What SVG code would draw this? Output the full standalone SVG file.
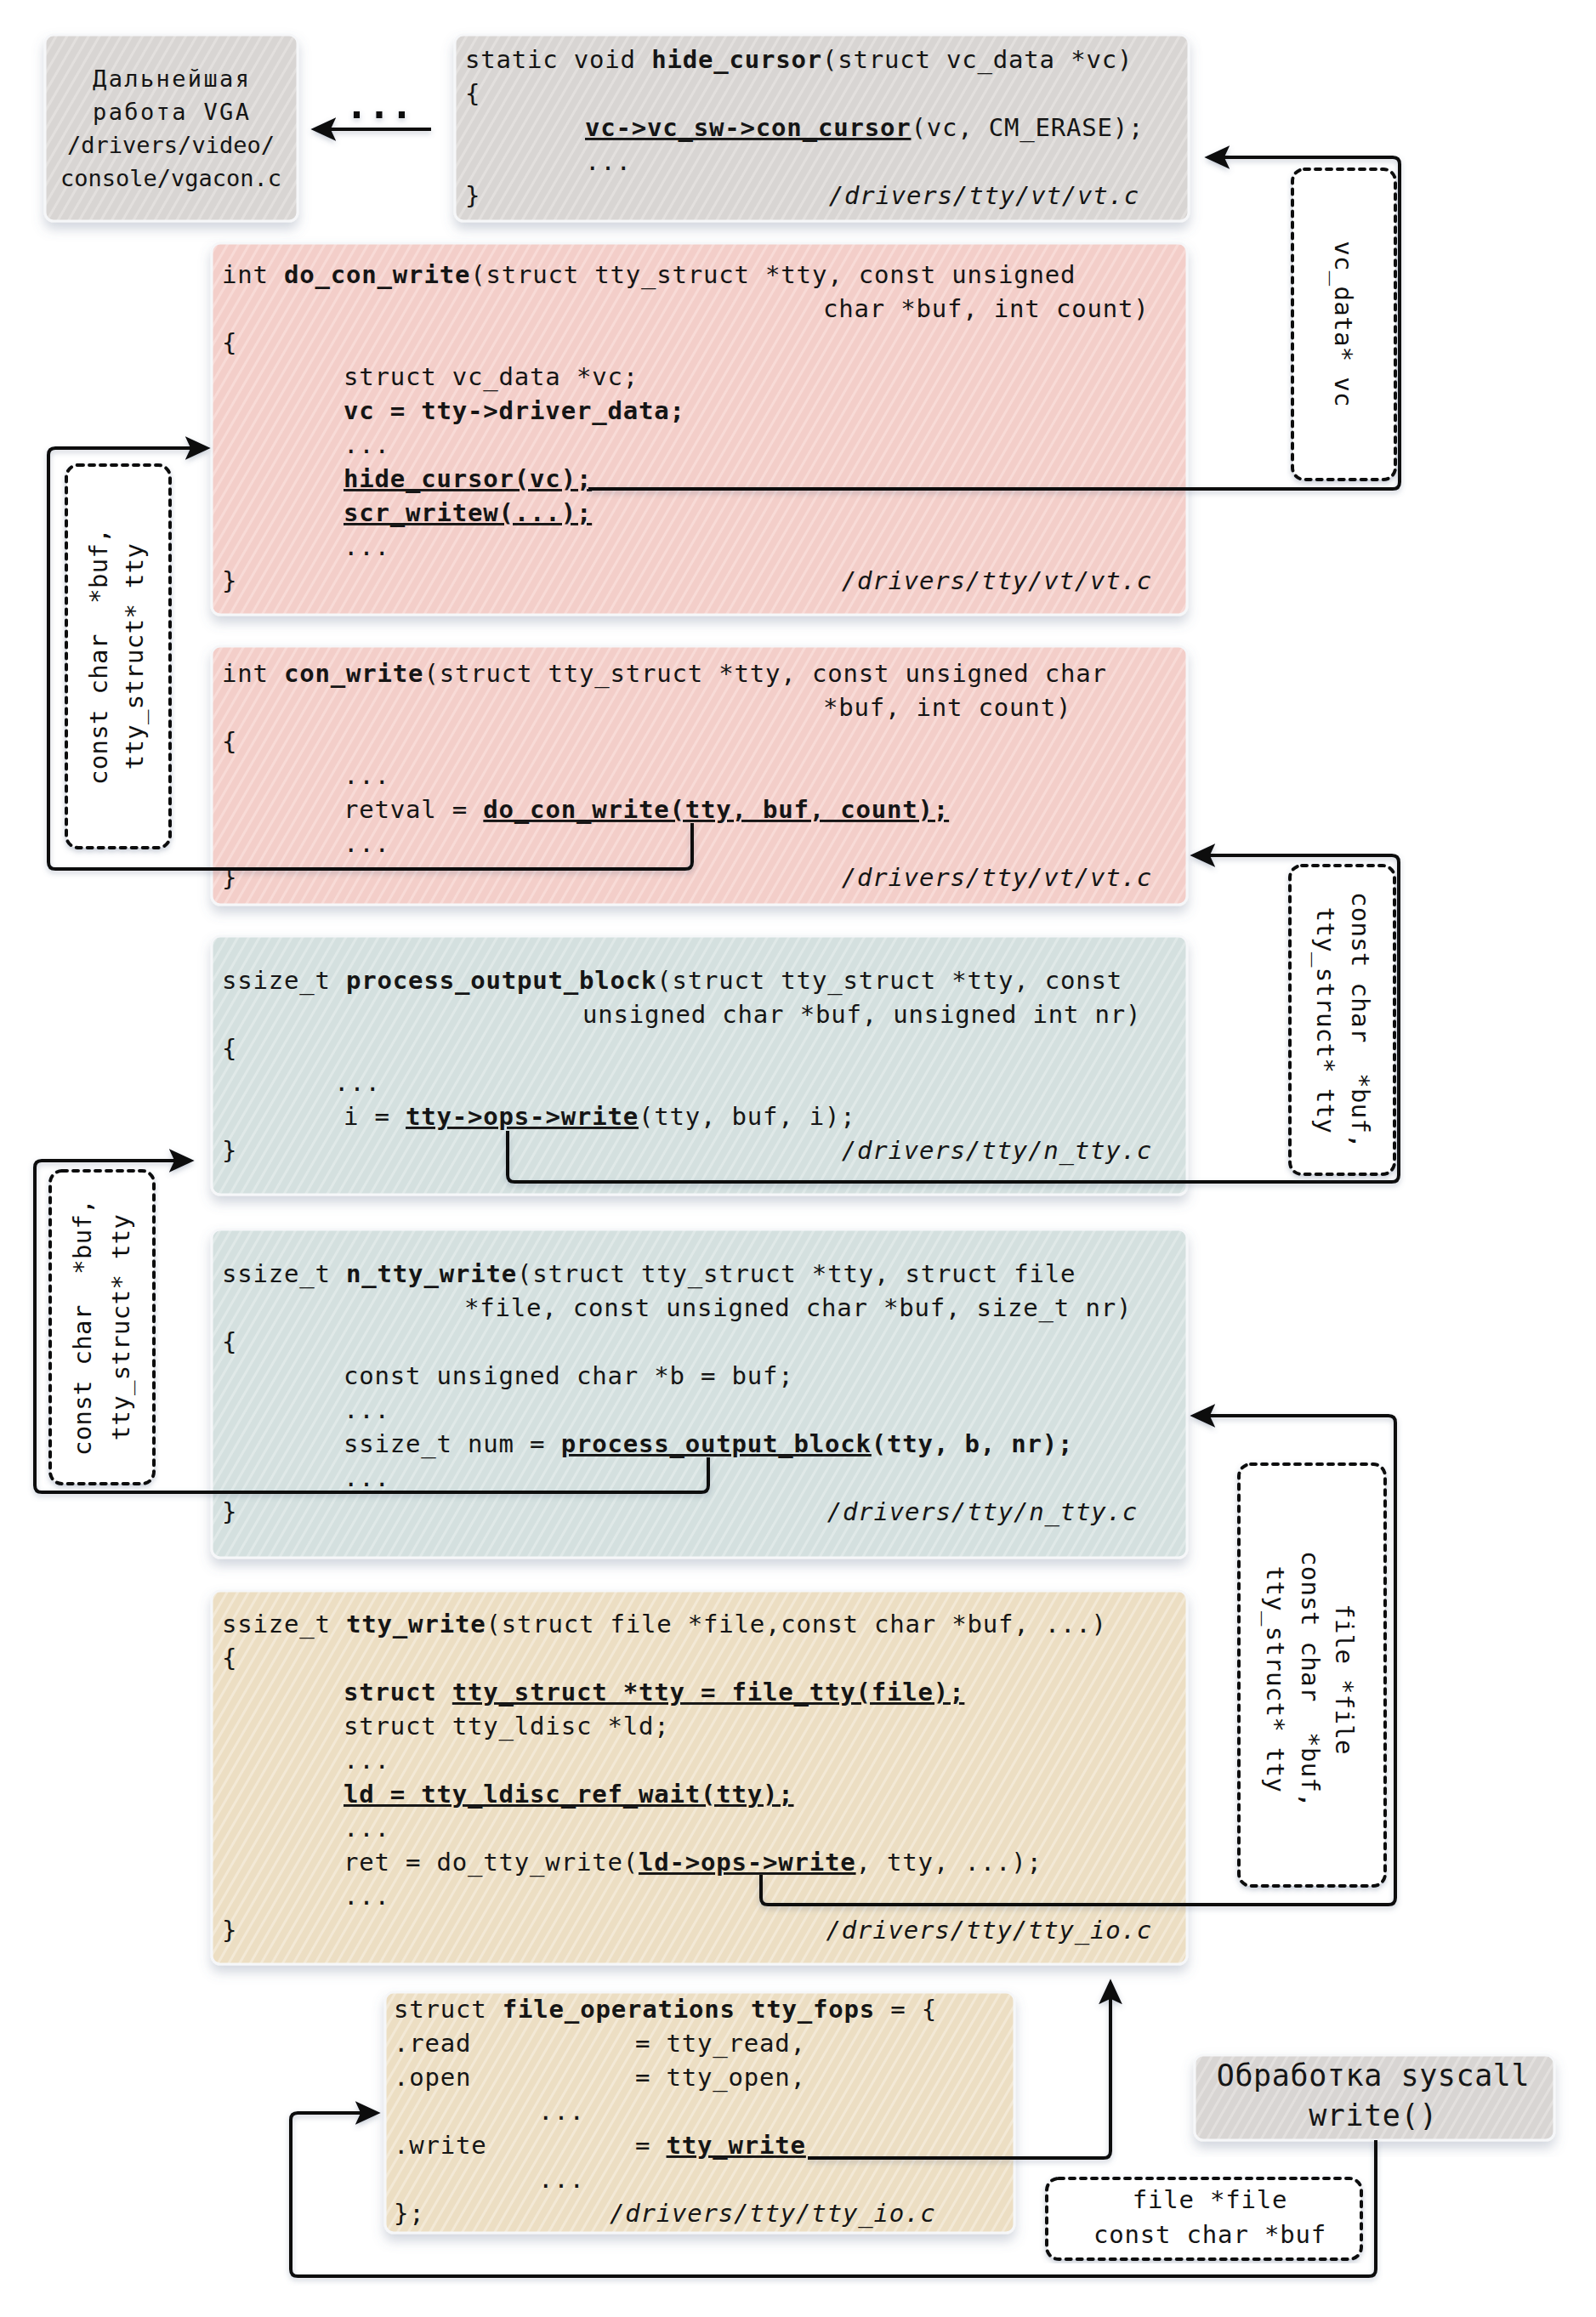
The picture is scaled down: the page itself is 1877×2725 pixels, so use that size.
<svg xmlns="http://www.w3.org/2000/svg" width="1877" height="2725" viewBox="0 0 1877 2725">
<defs>
<style>
.c{font-family:"DejaVu Sans Mono","Liberation Mono",monospace;font-size:29px;letter-spacing:0.8px;fill:#151515}
.b{font-weight:bold}
.u{text-decoration:underline}
.i{font-style:italic}
.r{font-family:"DejaVu Sans Mono","Liberation Mono",monospace;font-size:29px;letter-spacing:0.3px;fill:#111;text-anchor:middle}
.t{font-family:"DejaVu Sans Mono","Liberation Mono",monospace;fill:#151515;text-anchor:middle}
.conn{fill:none;stroke:#111;stroke-width:4;stroke-linejoin:round;stroke-linecap:butt}
.dash{fill:#fff;stroke:#111;stroke-width:4;stroke-dasharray:6 7;stroke-linecap:round}
.box{stroke:#f6f7f9;stroke-width:3}
</style>
<pattern id="pGray" patternUnits="userSpaceOnUse" width="11" height="11" patternTransform="rotate(30)"><rect width="11" height="11" fill="#d8d5d3"/><rect width="3" height="11" fill="#e3e0de"/></pattern>
<pattern id="pPink" patternUnits="userSpaceOnUse" width="11" height="11" patternTransform="rotate(30)"><rect width="11" height="11" fill="#f3cec9"/><rect width="3" height="11" fill="#f8dbd7"/></pattern>
<pattern id="pBlue" patternUnits="userSpaceOnUse" width="11" height="11" patternTransform="rotate(30)"><rect width="11" height="11" fill="#d4e0df"/><rect width="3" height="11" fill="#e0e9e8"/></pattern>
<pattern id="pBeige" patternUnits="userSpaceOnUse" width="11" height="11" patternTransform="rotate(30)"><rect width="11" height="11" fill="#ecdec3"/><rect width="3" height="11" fill="#f3e9d6"/></pattern>
<filter id="sh" x="-10%" y="-10%" width="120%" height="130%"><feDropShadow dx="0" dy="8" stdDeviation="7" flood-color="#5d6f8a" flood-opacity="0.28"/></filter>
<filter id="lsh" x="-5%" y="-5%" width="110%" height="110%"><feDropShadow dx="0" dy="3" stdDeviation="3" flood-color="#5d6f8a" flood-opacity="0.35"/></filter>
<marker id="ah" markerUnits="userSpaceOnUse" markerWidth="30" markerHeight="30" viewBox="0 0 28 28" refX="18" refY="14" orient="auto"><path d="M0,1 L28,14 L0,27 L6,14 Z" fill="#111"/></marker>
</defs>
<rect width="1877" height="2725" fill="#ffffff"/>

<g id="vga">
<rect class="box" x="53" y="41" width="297" height="219" rx="10" fill="url(#pGray)" filter="url(#sh)"/>
<text class="t" x="201" y="102" font-size="27" textLength="184" lengthAdjust="spacing">Дальнейшая</text>
<text class="t" x="201" y="141" font-size="27" textLength="184" lengthAdjust="spacing">работа VGA</text>
<text class="t" x="201" y="180" font-size="27">/drivers/video/</text>
<text class="t" x="201" y="219" font-size="27">console/vgacon.c</text>
</g>

<g id="hide_cursor">
<rect class="box" x="535" y="41" width="863" height="219" rx="10" fill="url(#pGray)" filter="url(#sh)"/>
<text class="c" x="547" y="80" xml:space="preserve">static void <tspan class="b">hide_cursor</tspan>(struct vc_data *vc)</text>
<text class="c" x="547" y="120">{</text>
<text class="c" x="688" y="160" xml:space="preserve"><tspan class="b u">vc-&gt;vc_sw-&gt;con_cursor</tspan>(vc, CM_ERASE);</text>
<text class="c" x="688" y="200">...</text>
<text class="c" x="547" y="240">}</text>
<text class="c i" x="1340" y="240" text-anchor="end">/drivers/tty/vt/vt.c</text>
</g>

<g id="do_con_write">
<rect class="box" x="249" y="286" width="1147" height="437" rx="10" fill="url(#pPink)" filter="url(#sh)"/>
<text class="c" x="261" y="333" xml:space="preserve">int <tspan class="b">do_con_write</tspan>(struct tty_struct *tty, const unsigned</text>
<text class="c" x="968" y="373" xml:space="preserve">char *buf, int count)</text>
<text class="c" x="261" y="413">{</text>
<text class="c" x="404" y="453" xml:space="preserve">struct vc_data *vc;</text>
<text class="c b" x="404" y="493" xml:space="preserve">vc = tty-&gt;driver_data;</text>
<text class="c" x="404" y="533">...</text>
<text class="c b u" x="404" y="573">hide_cursor(vc);</text>
<text class="c b u" x="404" y="613">scr_writew(...);</text>
<text class="c" x="404" y="653">...</text>
<text class="c" x="261" y="693">}</text>
<text class="c i" x="1355" y="693" text-anchor="end">/drivers/tty/vt/vt.c</text>
</g>

<g id="con_write">
<rect class="box" x="249" y="760" width="1147" height="304" rx="10" fill="url(#pPink)" filter="url(#sh)"/>
<text class="c" x="261" y="802" xml:space="preserve">int <tspan class="b">con_write</tspan>(struct tty_struct *tty, const unsigned char</text>
<text class="c" x="968" y="842" xml:space="preserve">*buf, int count)</text>
<text class="c" x="261" y="882">{</text>
<text class="c" x="404" y="922">...</text>
<text class="c" x="404" y="962" xml:space="preserve">retval = <tspan class="b u">do_con_write(tty, buf, count);</tspan></text>
<text class="c" x="404" y="1002">...</text>
<text class="c" x="261" y="1042">}</text>
<text class="c i" x="1355" y="1042" text-anchor="end">/drivers/tty/vt/vt.c</text>
</g>

<g id="process_output_block">
<rect class="box" x="249" y="1101" width="1147" height="304" rx="10" fill="url(#pBlue)" filter="url(#sh)"/>
<text class="c" x="261" y="1163" xml:space="preserve">ssize_t <tspan class="b">process_output_block</tspan>(struct tty_struct *tty, const</text>
<text class="c" x="685" y="1203" xml:space="preserve">unsigned char *buf, unsigned int nr)</text>
<text class="c" x="261" y="1243">{</text>
<text class="c" x="393" y="1283">...</text>
<text class="c" x="404" y="1323" xml:space="preserve">i = <tspan class="b u">tty-&gt;ops-&gt;write</tspan>(tty, buf, i);</text>
<text class="c" x="261" y="1363">}</text>
<text class="c i" x="1355" y="1363" text-anchor="end">/drivers/tty/n_tty.c</text>
</g>

<g id="n_tty_write">
<rect class="box" x="249" y="1446" width="1147" height="386" rx="10" fill="url(#pBlue)" filter="url(#sh)"/>
<text class="c" x="261" y="1508" xml:space="preserve">ssize_t <tspan class="b">n_tty_write</tspan>(struct tty_struct *tty, struct file</text>
<text class="c" x="546" y="1548" xml:space="preserve">*file, const unsigned char *buf, size_t nr)</text>
<text class="c" x="261" y="1588">{</text>
<text class="c" x="404" y="1628" xml:space="preserve">const unsigned char *b = buf;</text>
<text class="c" x="404" y="1668">...</text>
<text class="c" x="404" y="1708" xml:space="preserve">ssize_t num = <tspan class="b u">process_output_block</tspan><tspan class="b">(tty, b, nr);</tspan></text>
<text class="c" x="404" y="1748">...</text>
<text class="c" x="261" y="1788">}</text>
<text class="c i" x="1338" y="1788" text-anchor="end">/drivers/tty/n_tty.c</text>
</g>

<g id="tty_write">
<rect class="box" x="249" y="1871" width="1147" height="439" rx="10" fill="url(#pBeige)" filter="url(#sh)"/>
<text class="c" x="261" y="1920" xml:space="preserve">ssize_t <tspan class="b">tty_write</tspan>(struct file *file,const char *buf, ...)</text>
<text class="c" x="261" y="1960">{</text>
<text class="c" x="404" y="2000" xml:space="preserve"><tspan class="b">struct </tspan><tspan class="b u">tty_struct *tty = file_tty(file);</tspan></text>
<text class="c" x="404" y="2040" xml:space="preserve">struct tty_ldisc *ld;</text>
<text class="c" x="404" y="2080">...</text>
<text class="c b u" x="404" y="2120" xml:space="preserve">ld = tty_ldisc_ref_wait(tty);</text>
<text class="c" x="404" y="2160">...</text>
<text class="c" x="404" y="2200" xml:space="preserve">ret = do_tty_write(<tspan class="b u">ld-&gt;ops-&gt;write</tspan>, tty, ...);</text>
<text class="c" x="404" y="2240">...</text>
<text class="c" x="261" y="2280">}</text>
<text class="c i" x="1355" y="2280" text-anchor="end">/drivers/tty/tty_io.c</text>
</g>

<g id="tty_fops">
<rect class="box" x="453" y="2343" width="740" height="283" rx="10" fill="url(#pBeige)" filter="url(#sh)"/>
<text class="c" x="463" y="2373" xml:space="preserve">struct <tspan class="b">file_operations tty_fops</tspan> = {</text>
<text class="c" x="463" y="2413">.read</text>
<text class="c" x="747" y="2413" xml:space="preserve">= tty_read,</text>
<text class="c" x="463" y="2453">.open</text>
<text class="c" x="747" y="2453" xml:space="preserve">= tty_open,</text>
<text class="c" x="633" y="2493">...</text>
<text class="c" x="463" y="2533">.write</text>
<text class="c" x="747" y="2533" xml:space="preserve">= <tspan class="b u">tty_write</tspan></text>
<text class="c" x="633" y="2573">...</text>
<text class="c" x="463" y="2613">};</text>
<text class="c i" x="717" y="2613">/drivers/tty/tty_io.c</text>
</g>

<g id="syscall_write">
<rect class="box" x="1405" y="2417" width="423" height="100" rx="10" fill="url(#pGray)" filter="url(#sh)"/>
<text class="t" x="1615" y="2453" font-size="35" letter-spacing="0.6">Обработка syscall</text>
<text class="t" x="1615" y="2500" font-size="35" letter-spacing="0.6">write()</text>
</g>

<g id="connectors" filter="url(#lsh)">
<path class="conn" d="M507 152 H376" marker-end="url(#ah)"/>
<text x="446" y="139" font-family="DejaVu Sans Mono, monospace" font-size="44" font-weight="bold" text-anchor="middle" fill="#111">...</text>
<path class="conn" d="M692 575 H1638 Q1646 575 1646 567 V193 Q1646 185 1638 185 H1427" marker-end="url(#ah)"/>
<path class="conn" d="M814 968 V1014 Q814 1022 806 1022 H65 Q57 1022 57 1014 V535 Q57 527 65 527 H237" marker-end="url(#ah)"/>
<path class="conn" d="M597 1330 V1382 Q597 1390 605 1390 H1637 Q1645 1390 1645 1382 V1014 Q1645 1006 1637 1006 H1410" marker-end="url(#ah)"/>
<path class="conn" d="M833 1714 V1747 Q833 1755 825 1755 H49 Q41 1755 41 1747 V1373 Q41 1365 49 1365 H218" marker-end="url(#ah)"/>
<path class="conn" d="M895 2205 V2232 Q895 2240 903 2240 H1633 Q1641 2240 1641 2232 V1673 Q1641 1665 1633 1665 H1410" marker-end="url(#ah)"/>
<path class="conn" d="M950 2538 H1298 Q1306 2538 1306 2530 V2338" marker-end="url(#ah)"/>
<path class="conn" d="M1618 2517 V2669 Q1618 2677 1610 2677 H350 Q342 2677 342 2669 V2493 Q342 2485 350 2485 H437" marker-end="url(#ah)"/>
</g>

<g id="lbl_vc">
<rect class="dash" x="1520" y="199" width="121" height="365" rx="14" filter="url(#lsh)"/>
<text class="r" transform="translate(1580,381) rotate(90)" y="10">vc_data* vc</text>
</g>

<g id="lbl_buf_tty_1">
<rect class="dash" x="78" y="547" width="122" height="450" rx="14" filter="url(#lsh)"/>
<text class="r" transform="translate(139,772) rotate(-90)" xml:space="preserve"><tspan x="0" y="-13">const char  *buf,</tspan><tspan x="0" y="29">tty_struct* tty</tspan></text>
</g>

<g id="lbl_buf_tty_2">
<rect class="dash" x="1517" y="1018" width="123" height="363" rx="14" filter="url(#lsh)"/>
<text class="r" transform="translate(1578,1200) rotate(90)" xml:space="preserve"><tspan x="0" y="-12">const char  *buf,</tspan><tspan x="0" y="29">tty_struct* tty</tspan></text>
</g>

<g id="lbl_buf_tty_3">
<rect class="dash" x="59" y="1377" width="122" height="368" rx="14" filter="url(#lsh)"/>
<text class="r" transform="translate(121,1561) rotate(-90)" xml:space="preserve"><tspan x="0" y="-14">const char  *buf,</tspan><tspan x="0" y="31">tty_struct* tty</tspan></text>
</g>

<g id="lbl_file_buf_tty">
<rect class="dash" x="1457" y="1722" width="172" height="496" rx="14" filter="url(#lsh)"/>
<text class="r" transform="translate(1539,1975) rotate(90)" xml:space="preserve"><tspan x="0" y="-32">file *file</tspan><tspan x="0" y="8">const char  *buf,</tspan><tspan x="0" y="49">tty_struct* tty</tspan></text>
</g>

<g id="lbl_file_buf">
<rect class="dash" x="1231" y="2562" width="370" height="95" rx="14" filter="url(#lsh)"/>
<text class="c" x="1423" y="2597" text-anchor="middle">file *file</text>
<text class="c" x="1423" y="2638" text-anchor="middle">const char *buf</text>
</g>
</svg>
